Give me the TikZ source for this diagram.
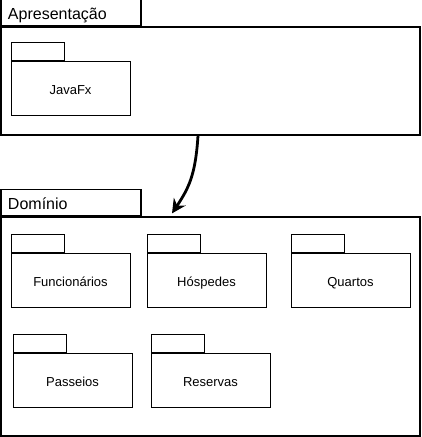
\documentclass[tikz,border=0pt]{standalone}
\usepackage{fontspec}
\setmainfont{Liberation Sans}
\usetikzlibrary{arrows.meta,positioning}
\tikzset{
  pkgbody/.style={draw, line width=1pt, minimum width=119pt, minimum height=54pt, inner sep=0pt, text height=12pt, text depth=0pt, font=\fontsize{13pt}{15pt}\selectfont},
  pkgtab/.style={draw, line width=1pt, minimum width=53pt, minimum height=18pt, inner sep=0pt, anchor=south west},
  outerbody/.style={draw, line width=1.2pt, minimum width=419pt, inner sep=0pt},
  outertab/.style={draw, line width=1.2pt, minimum width=140pt, minimum height=26pt, inner ysep=0pt, inner xsep=7pt, anchor=south west, text width=126pt, align=left, text height=14pt, text depth=0pt, font=\fontsize{16pt}{18pt}\selectfont},
  deparrow/.style={line width=2.8pt, -{Stealth[length=14pt,width=14pt]}}
}
\begin{document}
\begin{tikzpicture}[x=1pt,y=-1pt]
\useasboundingbox (0,0) rectangle (421,437);
% Apresentacao
\node[outerbody, minimum height=108pt] (apres) at (210.5,81) {};
\node[outertab] (aprestab) at (apres.north west) {Apresentação};
\node[pkgbody] (javafx) at (70.5,88) {JavaFx};
\node[pkgtab] (javafxtab) at (javafx.north west) {};
% Dominio
\node[outerbody, minimum height=219pt] (dom) at (210.5,326.5) {};
\node[outertab] (domtab) at (dom.north west) {Domínio};
\node[pkgbody] (func) at (70.5,280) {Funcionários};
\node[pkgtab] (functab) at (func.north west) {};
\node[pkgbody] (hosp) at (206.5,280) {Hóspedes};
\node[pkgtab] (hosptab) at (hosp.north west) {};
\node[pkgbody] (quart) at (350.5,280) {Quartos};
\node[pkgtab] (quarttab) at (quart.north west) {};
\node[pkgbody] (pass) at (72.5,380) {Passeios};
\node[pkgtab] (passtab) at (pass.north west) {};
\node[pkgbody] (res) at (210.5,380) {Reservas};
\node[pkgtab] (restab) at (res.north west) {};
% dependency
\draw[deparrow] ([xshift=-12.5pt]apres.south) .. controls ([xshift=-15pt,yshift=-40pt]apres.south) and ([xshift=-22pt,yshift=28pt]dom.north) .. ([xshift=-38.5pt,yshift=3pt]dom.north);
\end{tikzpicture}
\end{document}
